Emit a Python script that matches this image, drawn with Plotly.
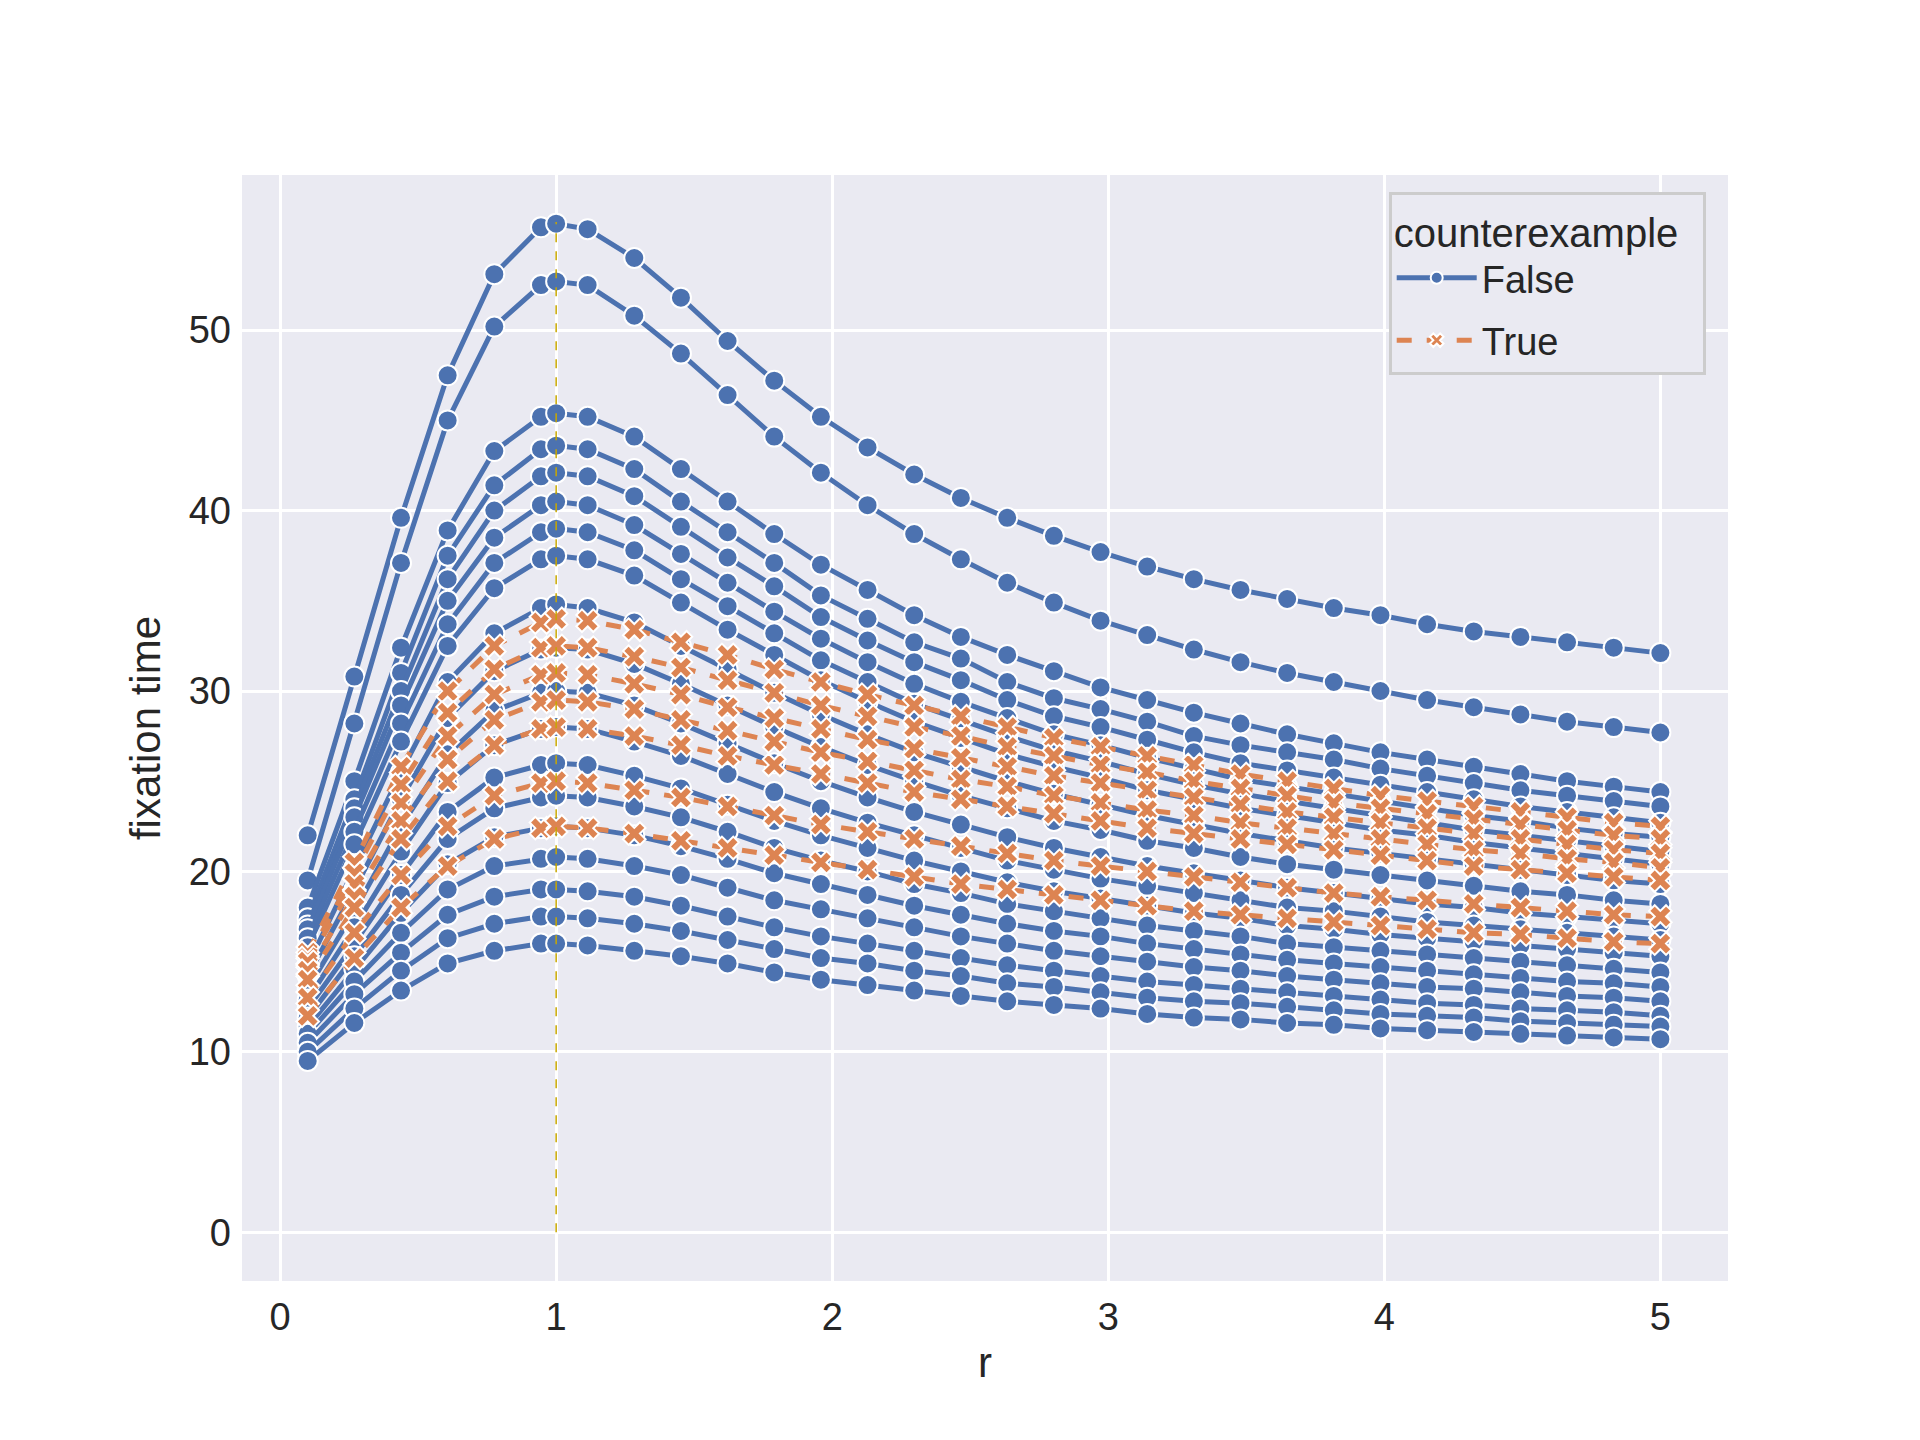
import plotly.graph_objects as go

r = [0.1, 0.269, 0.438, 0.607, 0.776, 0.945, 1.0, 1.114, 1.283, 1.452, 1.621, 1.790, 1.959, 2.128,
     2.297, 2.466, 2.634, 2.803, 2.972, 3.141, 3.310, 3.479, 3.648, 3.817, 3.986, 4.155, 4.324,
     4.493, 4.662, 4.831, 5.0]

false_curves = [
    [22.0, 30.8, 39.6, 47.5, 53.1, 55.7, 55.9, 55.6, 54.0, 51.8, 49.4, 47.2, 45.2, 43.5, 42.0, 40.7, 39.6, 38.6, 37.7, 36.9, 36.2, 35.6, 35.1, 34.6, 34.2, 33.7, 33.3, 33.0, 32.7, 32.4, 32.1],
    [19.5, 28.2, 37.1, 45.0, 50.2, 52.5, 52.7, 52.5, 50.8, 48.7, 46.4, 44.1, 42.1, 40.3, 38.7, 37.3, 36.0, 34.9, 33.9, 33.1, 32.3, 31.6, 31.0, 30.5, 30.0, 29.5, 29.1, 28.7, 28.3, 28.0, 27.7],
    [18.0, 25.0, 32.4, 38.9, 43.3, 45.2, 45.4, 45.2, 44.1, 42.3, 40.5, 38.7, 37.0, 35.6, 34.2, 33.0, 32.0, 31.1, 30.2, 29.5, 28.8, 28.2, 27.6, 27.1, 26.6, 26.2, 25.8, 25.4, 25.0, 24.7, 24.4],
    [17.4, 24.0, 31.0, 37.5, 41.4, 43.4, 43.6, 43.4, 42.3, 40.5, 38.8, 37.1, 35.3, 34.0, 32.7, 31.8, 30.5, 29.6, 29.0, 28.3, 27.5, 27.0, 26.6, 26.2, 25.7, 25.3, 24.9, 24.5, 24.2, 23.9, 23.6],
    [17.0, 23.5, 30.0, 36.2, 40.0, 41.9, 42.1, 41.9, 40.8, 39.1, 37.4, 35.8, 34.1, 32.8, 31.6, 30.6, 29.5, 28.6, 28.0, 27.3, 26.6, 26.0, 25.6, 25.2, 24.8, 24.4, 24.0, 23.6, 23.3, 23.0, 22.7],
    [16.8, 23.0, 29.2, 35.0, 38.5, 40.3, 40.5, 40.3, 39.2, 37.6, 36.0, 34.4, 32.9, 31.6, 30.4, 29.4, 28.5, 27.6, 27.0, 26.3, 25.7, 25.1, 24.7, 24.3, 23.9, 23.5, 23.1, 22.8, 22.4, 22.1, 21.9],
    [16.3, 22.2, 28.2, 33.7, 37.1, 38.8, 39.0, 38.8, 37.8, 36.2, 34.7, 33.2, 31.7, 30.5, 29.3, 28.4, 27.5, 26.7, 26.1, 25.4, 24.8, 24.3, 23.9, 23.5, 23.1, 22.7, 22.3, 22.0, 21.7, 21.4, 21.1],
    [15.8, 21.5, 27.2, 32.5, 35.7, 37.3, 37.5, 37.3, 36.4, 34.9, 33.4, 32.0, 30.6, 29.4, 28.3, 27.4, 26.5, 25.8, 25.2, 24.5, 24.0, 23.5, 23.1, 22.7, 22.3, 22.0, 21.6, 21.3, 21.0, 20.7, 20.4],
    [14.8, 20.2, 25.5, 30.5, 33.2, 34.6, 34.8, 34.6, 33.8, 32.5, 31.2, 29.9, 28.7, 27.6, 26.6, 25.8, 25.0, 24.3, 23.7, 23.1, 22.6, 22.1, 21.7, 21.3, 21.0, 20.7, 20.4, 20.1, 19.8, 19.5, 19.3],
    [14.2, 19.0, 24.0, 28.5, 31.1, 32.3, 32.4, 32.3, 31.5, 30.4, 29.2, 28.0, 26.9, 25.9, 25.0, 24.2, 23.5, 22.8, 22.3, 21.7, 21.3, 20.8, 20.4, 20.1, 19.8, 19.5, 19.2, 18.9, 18.7, 18.4, 18.2],
    [13.5, 17.8, 22.5, 26.5, 28.9, 29.9, 30.0, 29.9, 29.2, 28.2, 27.1, 26.0, 25.0, 24.1, 23.3, 22.6, 21.9, 21.3, 20.8, 20.3, 19.9, 19.5, 19.1, 18.8, 18.5, 18.2, 18.0, 17.7, 17.5, 17.3, 17.1],
    [12.9, 16.9, 21.1, 24.9, 27.0, 27.9, 28.0, 27.9, 27.2, 26.4, 25.4, 24.4, 23.5, 22.7, 22.0, 21.3, 20.6, 20.1, 19.6, 19.2, 18.8, 18.4, 18.0, 17.8, 17.5, 17.2, 17.0, 16.8, 16.6, 16.4, 16.2],
    [12.4, 16.0, 19.8, 23.3, 25.2, 25.9, 26.0, 25.9, 25.3, 24.6, 23.7, 22.8, 22.0, 21.3, 20.6, 20.0, 19.4, 18.9, 18.5, 18.1, 17.7, 17.4, 17.0, 16.8, 16.5, 16.3, 16.1, 15.9, 15.7, 15.5, 15.3],
    [11.9, 15.3, 18.7, 21.8, 23.5, 24.1, 24.2, 24.1, 23.6, 23.0, 22.2, 21.3, 20.6, 20.0, 19.3, 18.8, 18.2, 17.8, 17.4, 17.0, 16.7, 16.4, 16.0, 15.8, 15.6, 15.4, 15.2, 15.0, 14.8, 14.6, 14.4],
    [11.4, 14.6, 17.7, 20.4, 21.9, 22.4, 22.5, 22.4, 22.0, 21.4, 20.7, 19.9, 19.3, 18.7, 18.1, 17.6, 17.1, 16.7, 16.4, 16.0, 15.7, 15.4, 15.1, 14.9, 14.7, 14.5, 14.3, 14.1, 13.9, 13.8, 13.6],
    [11.0, 13.9, 16.6, 19.0, 20.3, 20.7, 20.8, 20.7, 20.3, 19.8, 19.1, 18.4, 17.9, 17.4, 16.9, 16.4, 16.0, 15.6, 15.3, 15.0, 14.7, 14.5, 14.2, 14.0, 13.8, 13.6, 13.5, 13.3, 13.1, 13.0, 12.8],
    [10.5, 13.2, 15.5, 17.6, 18.6, 19.0, 19.0, 18.9, 18.6, 18.1, 17.5, 16.9, 16.4, 16.0, 15.6, 15.2, 14.8, 14.5, 14.2, 13.9, 13.7, 13.5, 13.3, 13.1, 12.9, 12.7, 12.6, 12.4, 12.3, 12.2, 12.0],
    [10.0, 12.4, 14.5, 16.3, 17.1, 17.5, 17.5, 17.4, 17.1, 16.7, 16.2, 15.7, 15.2, 14.9, 14.5, 14.2, 13.8, 13.6, 13.3, 13.0, 12.8, 12.7, 12.5, 12.3, 12.1, 12.0, 11.9, 11.7, 11.6, 11.5, 11.4],
    [9.5, 11.6, 13.4, 14.9, 15.6, 16.0, 16.0, 15.9, 15.6, 15.3, 14.9, 14.4, 14.0, 13.7, 13.4, 13.1, 12.8, 12.6, 12.4, 12.1, 11.9, 11.8, 11.6, 11.5, 11.3, 11.2, 11.1, 11.0, 10.9, 10.8, 10.7],
]

true_curves = [
    [15.5, 20.5, 25.8, 30.0, 32.5, 33.8, 34.0, 33.9, 33.4, 32.7, 32.0, 31.2, 30.5, 29.8, 29.2, 28.6, 28.0, 27.4, 26.9, 26.4, 25.9, 25.4, 25.0, 24.6, 24.2, 23.9, 23.6, 23.3, 23.0, 22.7, 22.5],
    [15.2, 19.9, 24.8, 28.8, 31.2, 32.4, 32.5, 32.4, 31.9, 31.3, 30.6, 29.9, 29.2, 28.6, 28.0, 27.5, 26.9, 26.4, 25.9, 25.5, 25.0, 24.6, 24.2, 23.8, 23.5, 23.2, 22.9, 22.6, 22.3, 22.0, 21.8],
    [15.0, 19.3, 23.8, 27.5, 29.8, 30.9, 31.0, 30.9, 30.4, 29.8, 29.1, 28.5, 27.9, 27.3, 26.8, 26.3, 25.8, 25.3, 24.9, 24.5, 24.1, 23.7, 23.3, 23.0, 22.7, 22.4, 22.1, 21.8, 21.5, 21.2, 21.0],
    [14.5, 18.6, 22.8, 26.2, 28.4, 29.4, 29.5, 29.4, 29.0, 28.4, 27.8, 27.2, 26.6, 26.1, 25.6, 25.1, 24.7, 24.2, 23.8, 23.4, 23.1, 22.7, 22.4, 22.1, 21.8, 21.5, 21.2, 21.0, 20.7, 20.5, 20.2],
    [14.0, 18.0, 21.8, 25.0, 27.0, 27.9, 28.0, 27.9, 27.5, 27.0, 26.4, 25.9, 25.4, 24.9, 24.4, 24.0, 23.6, 23.2, 22.8, 22.4, 22.1, 21.8, 21.5, 21.2, 20.9, 20.6, 20.3, 20.1, 19.9, 19.7, 19.5],
    [13.0, 16.6, 19.8, 22.5, 24.2, 24.9, 25.0, 24.9, 24.5, 24.1, 23.6, 23.1, 22.6, 22.2, 21.8, 21.4, 21.0, 20.6, 20.3, 20.0, 19.7, 19.4, 19.1, 18.8, 18.6, 18.4, 18.2, 18.0, 17.8, 17.6, 17.5],
    [12.0, 15.2, 18.0, 20.3, 21.8, 22.4, 22.5, 22.4, 22.1, 21.7, 21.3, 20.9, 20.5, 20.1, 19.7, 19.3, 19.0, 18.7, 18.4, 18.1, 17.8, 17.6, 17.4, 17.2, 17.0, 16.8, 16.6, 16.5, 16.3, 16.1, 16.0],
]

blue = "#4C72B0"
orange = "#DD8452"

fig = go.Figure()
for i, ys in enumerate(false_curves):
    fig.add_trace(go.Scatter(
        x=r, y=ys, mode="lines+markers", name="False", legendgroup="False",
        showlegend=(i == 0),
        line=dict(color=blue, width=5),
        marker=dict(symbol="circle", size=20, color=blue, line=dict(color="white", width=2)),
    ))
for i, ys in enumerate(true_curves):
    fig.add_trace(go.Scatter(
        x=r, y=ys, mode="lines+markers", name="True", legendgroup="True",
        showlegend=(i == 0),
        line=dict(color=orange, width=5, dash="dash"),
        marker=dict(symbol="x", size=20, color=orange, line=dict(color="white", width=2)),
    ))

fig.add_shape(type="line", x0=1, x1=1, y0=0, y1=56, line=dict(color="#C8A800", width=1.5, dash="dash"))

fig.update_layout(
    width=1920, height=1440,
    paper_bgcolor="white", plot_bgcolor="#EAEAF2",
    margin=dict(l=234, r=200, t=167, b=167),
    font=dict(family="Liberation Sans, Arial", size=38, color="#262626"),
    legend=dict(
        title=dict(text="counterexample  ", font=dict(size=40)),
        x=0.985, y=0.985, xanchor="right", yanchor="top",
        bgcolor="#EAEAF2", bordercolor="#CCCCCC", borderwidth=3,
        font=dict(size=38), itemwidth=80, itemsizing="constant",
        tracegroupgap=10,
    ),
)
fig.update_xaxes(range=[-0.138, 5.245], tickvals=[0, 1, 2, 3, 4, 5], showgrid=True,
                 gridcolor="white", gridwidth=3, zeroline=False, showline=False,
                 title=dict(text="r", font=dict(size=42), standoff=10), ticks="", ticklabelstandoff=10)
fig.update_yaxes(range=[-2.7, 58.6], tickvals=[0, 10, 20, 30, 40, 50], showgrid=True,
                 gridcolor="white", gridwidth=3, zeroline=False, showline=False,
                 title=dict(text="fixation time", font=dict(size=42), standoff=15), ticks="", ticklabelstandoff=10)

fig.write_html("out.html")
